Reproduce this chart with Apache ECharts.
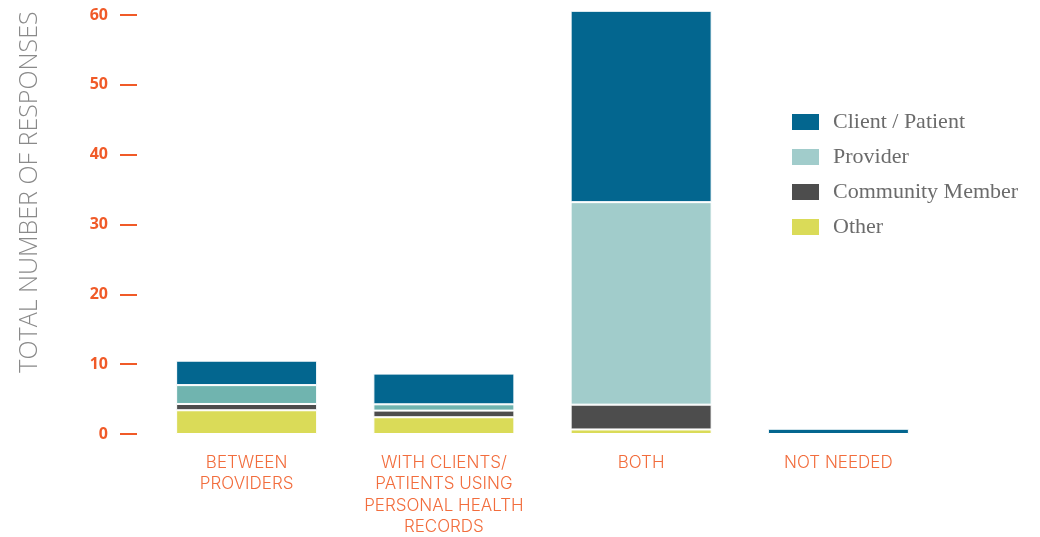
<!DOCTYPE html>
<html lang="en">
<head>
    <meta charset="UTF-8">
    <script src="https://cdn.jsdelivr.net/npm/echarts@6/dist/echarts.min.js"></script>
    <title>Total number of responses</title>
    <style>
        html, body {margin: 0; padding: 0; background: #fff;}
        #chart {width: 1040px; height: 537px;}
    </style>
</head>
<body>
<div id="chart"></div>
<script type="text/javascript">
    var categories = ['BETWEEN\nPROVIDERS', 'WITH CLIENTS/\nPATIENTS USING\nPERSONAL HEALTH\nRECORDS', 'BOTH', 'NOT NEEDED'];
    var otherData = [3.4, 2.4, 0.65, 0];
    var communityData = [0.9, 0.95, 3.55, 0];
    var providerData = [2.7, 0.9, 29, 0];
    var clientData = [3.5, 4.4, 27.4, 0.75];
    var yTicks = [0, 10, 20, 30, 40, 50, 60];

    var myChart = echarts.init(document.getElementById('chart'));

    // first two bars use a darker teal for the provider block
    var providerItems = providerData.map(function (v, i) {
        if (i < 2) {
            return {value: v, itemStyle: {color: '#70b4af'}};
        }
        return v;
    });

    function seg(name, data, color) {
        return {
            name: name,
            type: 'bar',
            stack: 'total',
            data: data,
            barWidth: 141,
            clip: false,
            itemStyle: {color: color, borderColor: '#fff', borderWidth: 1},
            emphasis: {disabled: true}
        };
    }

    var option = {
        animation: false,
        grid: {left: 148, right: 103, top: 15, bottom: 103, outerBoundsMode: 'none'},
        legend: {
            orient: 'vertical',
            left: 785,
            top: 106,
            itemWidth: 29,
            itemHeight: 18,
            itemGap: 13,
            icon: 'rect',
            data: ['Client / Patient', 'Provider', 'Community Member', 'Other'],
            textStyle: {
                fontFamily: 'Liberation Serif',
                fontSize: 22,
                color: '#6b6b6b',
                padding: [0, 0, 0, 8]
            }
        },
        graphic: [{
            type: 'text',
            x: 30,
            y: 192,
            rotation: Math.PI / 2,
            style: {
                text: 'TOTAL NUMBER OF RESPONSES',
                fill: '#8a8a8a',
                font: '300 25px "Open Sans"',
                textAlign: 'center',
                textVerticalAlign: 'middle'
            }
        }],
        xAxis: {
            type: 'category',
            data: categories,
            axisLine: {show: false},
            axisTick: {show: false},
            axisLabel: {
                margin: 18,
                color: '#f26d3d',
                fontFamily: 'Inter',
                fontWeight: 300,
                fontSize: 17,
                lineHeight: 21.5,
                interval: 0
            }
        },
        yAxis: {
            type: 'value',
            min: 0,
            max: 60,
            interval: 10,
            offset: 11,
            splitLine: {show: false},
            axisLine: {show: false},
            axisTick: {show: true, length: 17, lineStyle: {color: '#f05a28', width: 2}},
            axisLabel: {
                margin: 29,
                color: '#f05a28',
                fontFamily: 'Open Sans',
                fontWeight: 'bold',
                fontSize: 16,
                formatter: function (v) {
                    return yTicks.indexOf(v) >= 0 ? String(v) : '';
                }
            }
        },
        series: [
            seg('Other', otherData, '#dadb58'),
            seg('Community Member', communityData, '#4d4d4d'),
            seg('Provider', providerItems, '#a1cccb'),
            seg('Client / Patient', clientData, '#03668f')
        ]
    };
    myChart.setOption(option);
</script>
</body>
</html>
